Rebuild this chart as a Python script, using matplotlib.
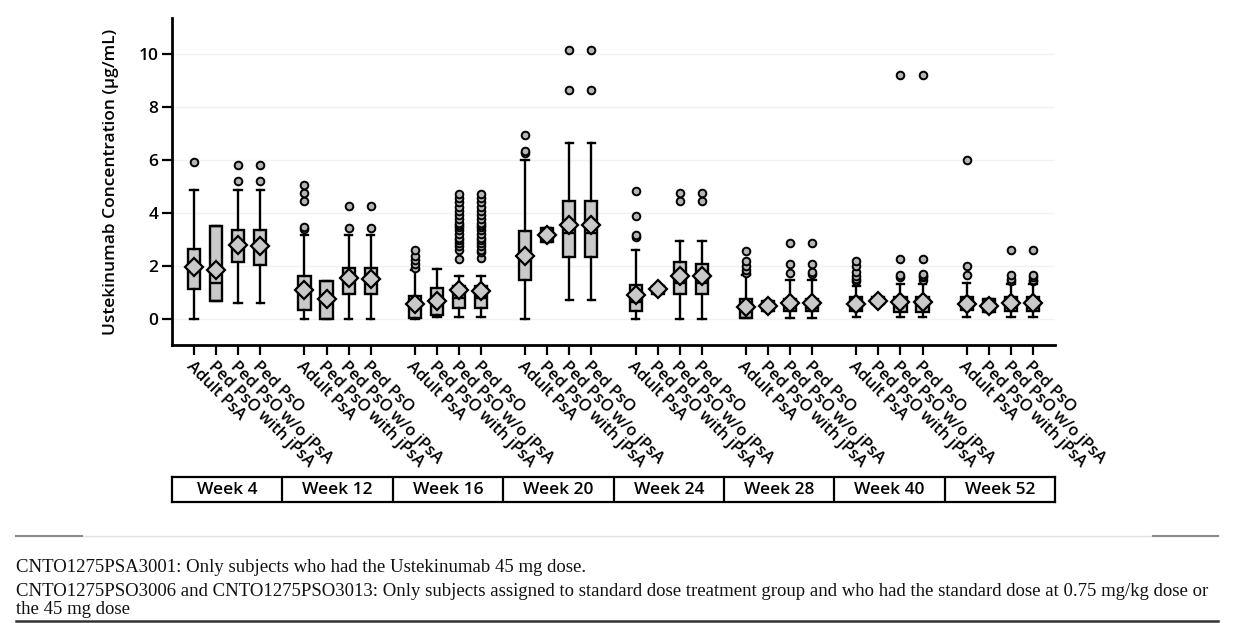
import matplotlib
matplotlib.use('Agg')
import matplotlib.pyplot as plt
from matplotlib.lines import Line2D

weeks = ['Week 4', 'Week 12', 'Week 16', 'Week 20', 'Week 24', 'Week 28', 'Week 40', 'Week 52']
groups = ['Adult PsA', 'Ped PsO with jPsA', 'Ped PsO w/o jPsA', 'Ped PsO']

# order: for each week -> Adult PsA, Ped PsO with jPsA, Ped PsO w/o jPsA, Ped PsO
whislo = [0.00, 0.65, 0.57, 0.57,
          0.00, 0.00, 0.00, 0.00,
          0.00, 0.05, 0.05, 0.05,
          0.00, 2.88, 0.69, 0.69,
          0.00, 0.94, 0.00, 0.00,
          0.03, 0.28, 0.03, 0.03,
          0.04, 0.55, 0.04, 0.04,
          0.04, 0.23, 0.04, 0.04]
q1 = [1.12, 0.65, 2.12, 2.04,
      0.34, 0.00, 0.91, 0.91,
      0.03, 0.15, 0.40, 0.40,
      1.45, 2.88, 2.33, 2.33,
      0.28, 0.94, 0.91, 0.91,
      0.03, 0.28, 0.28, 0.28,
      0.30, 0.55, 0.26, 0.26,
      0.34, 0.23, 0.30, 0.30]
med = [1.90, 1.34, 2.72, 2.70,
       1.05, 0.72, 1.35, 1.35,
       0.45, 0.60, 0.78, 0.78,
       2.29, 3.15, 3.23, 3.23,
       0.64, 1.10, 1.34, 1.34,
       0.30, 0.46, 0.40, 0.40,
       0.35, 0.65, 0.50, 0.50,
       0.40, 0.50, 0.45, 0.45]
q3 = [2.63, 3.51, 3.33, 3.33,
      1.60, 1.41, 1.91, 1.90,
      0.84, 1.16, 1.22, 1.22,
      3.32, 3.42, 4.42, 4.42,
      1.28, 1.22, 2.12, 2.07,
      0.72, 0.65, 0.72, 0.72,
      0.80, 0.80, 0.83, 0.83,
      0.80, 0.72, 0.80, 0.80]
whishi = [4.84, 3.51, 4.84, 4.84,
          3.17, 1.41, 3.17, 3.17,
          1.85, 1.87, 1.60, 1.60,
          5.97, 3.42, 6.63, 6.63,
          2.58, 1.22, 2.92, 2.92,
          1.66, 0.65, 1.47, 1.47,
          1.22, 0.80, 1.30, 1.30,
          1.36, 0.72, 1.30, 1.30]
means = [1.94, 1.85, 2.79, 2.73,
         1.09, 0.72, 1.54, 1.50,
         0.53, 0.65, 1.09, 1.05,
         2.38, 3.17, 3.54, 3.54,
         0.88, 1.12, 1.60, 1.60,
         0.45, 0.46, 0.59, 0.59,
         0.53, 0.68, 0.64, 0.64,
         0.53, 0.46, 0.57, 0.57]
outliers = [
    [5.91], [], [5.21, 5.79], [5.21, 5.79],
    [3.38, 3.45, 4.43, 4.74, 5.06], [], [3.42, 4.24], [3.42, 4.24],
    [1.91, 2.05, 2.20, 2.38, 2.58], [],
    [2.23, 2.60, 2.75, 2.85, 2.95, 3.05, 3.20, 3.35, 3.45, 3.55, 3.62, 3.75, 3.90, 4.05, 4.20, 4.40, 4.55, 4.72],
    [2.30, 2.50, 2.60, 2.75, 2.85, 2.95, 3.05, 3.20, 3.35, 3.45, 3.55, 3.62, 3.75, 3.90, 4.05, 4.20, 4.40, 4.55, 4.72],
    [6.25, 6.31, 6.92], [], [8.62, 10.15], [8.62, 10.15],
    [3.08, 3.17, 3.86, 4.80], [], [4.43, 4.74], [4.43, 4.74],
    [1.72, 1.85, 1.97, 2.16, 2.54], [], [1.72, 2.06, 2.86], [1.68, 1.75, 2.06, 2.86],
    [1.40, 1.50, 1.60, 1.74, 1.97, 2.16], [], [1.55, 1.66, 2.23, 9.21], [1.45, 1.55, 1.62, 1.68, 2.23, 9.21],
    [1.66, 2.00, 5.97], [], [1.40, 1.50, 1.63, 2.60], [1.40, 1.47, 1.55, 1.63, 2.60],
]

font_sans = 'Open Sans'
fw = 'semibold'
fig = plt.figure(figsize=(12.46, 6.23), dpi=100)
W, H = 1246, 623
ax = fig.add_axes([172 / W, 1 - 345 / H, 883 / W, 327 / H])

ng = len(groups)
positions = [g * (ng + 1) + i for g in range(len(weeks)) for i in range(ng)]
stats = []
for k in range(len(positions)):
    stats.append(dict(whislo=whislo[k], q1=q1[k], med=med[k], q3=q3[k],
                      whishi=whishi[k], mean=means[k], fliers=outliers[k]))

lw = 1.7
ax.bxp(stats, positions=positions, widths=0.55, capwidths=0.34,
       patch_artist=True, showmeans=True, meanline=False,
       boxprops=dict(facecolor='#c9c9c9', edgecolor='black', linewidth=lw),
       medianprops=dict(color='black', linewidth=lw),
       whiskerprops=dict(color='black', linewidth=lw),
       capprops=dict(color='black', linewidth=lw),
       flierprops=dict(marker='o', markersize=5.5, markerfacecolor='#b5b5b5',
                       markeredgecolor='black', markeredgewidth=1.4),
       meanprops=dict(marker='D', markersize=9, markerfacecolor='#c9c9c9',
                      markeredgecolor='black', markeredgewidth=1.6))

ax.set_xlim(-1, len(weeks) * (ng + 1) - 1)
ax.set_ylim(-1, 11.35)
ax.set_yticks([0, 2, 4, 6, 8, 10])
ax.set_yticklabels(['0', '2', '4', '6', '8', '10'], fontsize=12.5, family=font_sans,
                   fontweight=fw)
ax.set_xticks(positions)
ax.set_xticklabels(groups * len(weeks), rotation=-45, ha='left', va='top',
                   rotation_mode='anchor', fontsize=11.8, family=font_sans,
                   fontweight=fw)
ax.tick_params(axis='both', direction='out', length=7, width=1.6, color='black')
ax.tick_params(axis='x', pad=3)
ax.tick_params(axis='y', pad=3)
for s in ['top', 'right']:
    ax.spines[s].set_visible(False)
for s in ['left', 'bottom']:
    ax.spines[s].set_linewidth(2)
ax.yaxis.grid(True, color='#f1f1f1', linewidth=1)
ax.set_axisbelow(True)
ax.set_ylabel('Ustekinumab Concentration (µg/mL)', fontsize=12.5, family=font_sans,
              fontweight=fw)
ax.yaxis.set_label_coords(-0.06, 0.5)

# Week strip
ax2 = fig.add_axes([172 / W, 1 - 502 / H, 883 / W, 25 / H])
ax2.set_xlim(-1, len(weeks) * (ng + 1) - 1)
ax2.set_ylim(0, 1)
ax2.set_xticks([])
ax2.set_yticks([])
for s in ax2.spines.values():
    s.set_linewidth(1.6)
for g, wk in enumerate(weeks):
    if g > 0:
        ax2.axvline(g * (ng + 1) - 1, color='black', linewidth=1.6)
    ax2.text(g * (ng + 1) + (ng - 1) / 2, 0.5, wk, ha='center', va='center',
             fontsize=12.5, family=font_sans, fontweight=fw)

# Footer lines
def hline(x0, x1, y, color, lw_):
    fig.add_artist(Line2D([x0 / W, x1 / W], [1 - y / H, 1 - y / H],
                          color=color, linewidth=lw_, transform=fig.transFigure))

hline(16, 1218, 536, '#e2e2e2', 1.0)
hline(16, 82, 536, '#8a8a8a', 1.5)
hline(1153, 1218, 536, '#8a8a8a', 1.5)
hline(16, 1218, 621, '#333333', 1.8)

foot = ['CNTO1275PSA3001: Only subjects who had the Ustekinumab 45 mg dose.',
        'CNTO1275PSO3006 and CNTO1275PSO3013: Only subjects assigned to standard dose treatment group and who had the standard dose at 0.75 mg/kg dose or',
        'the 45 mg dose']
for txt, y in zip(foot, [568, 591, 610]):
    fig.text(16 / W, 1 - y / H, txt, ha='left', va='center', fontsize=13.5,
             family='Liberation Serif', color='#111111')

fig.savefig('out.png', dpi=100)
